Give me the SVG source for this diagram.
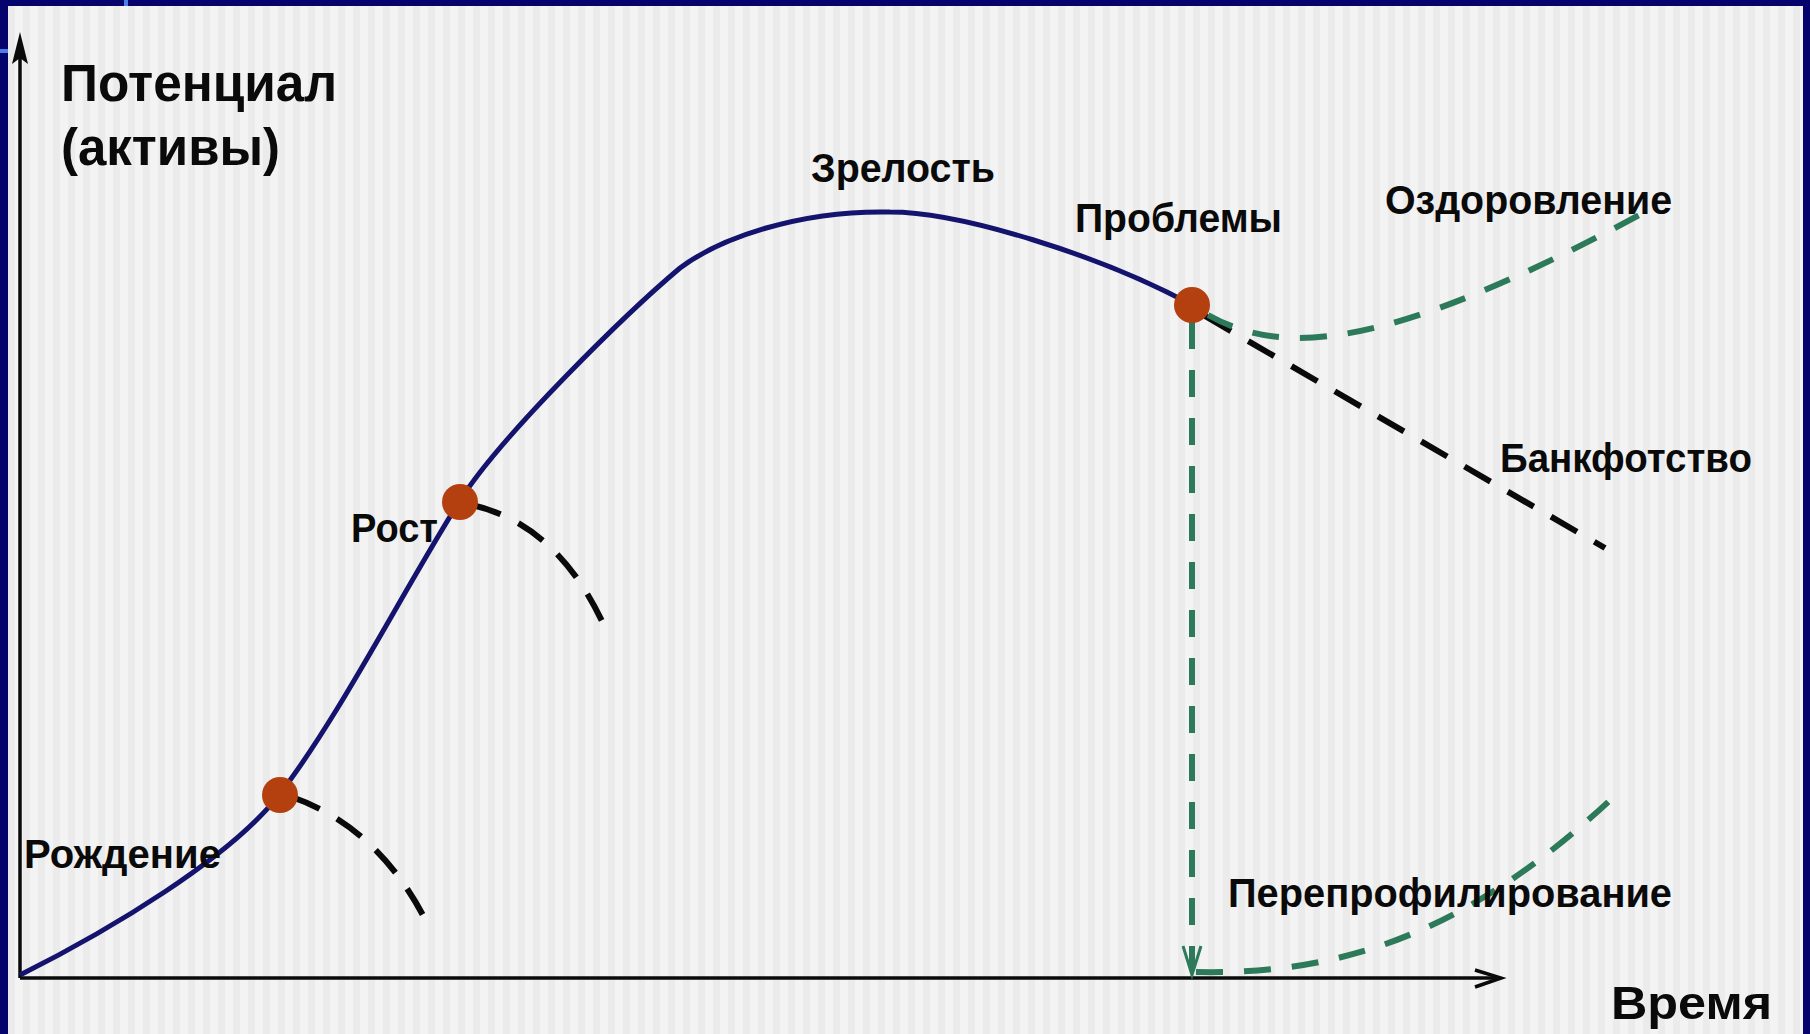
<svg xmlns="http://www.w3.org/2000/svg" width="1810" height="1034" viewBox="0 0 1810 1034">
  <style>
    .lbl { font-family: "Liberation Sans", Arial, sans-serif; font-weight: bold; font-size: 40px; fill: #0a0a0a; }
    .big { font-size: 51px; }
    .axis { stroke: #0a0a0a; stroke-width: 3.5; fill: none; }
    .main { stroke: #14146e; stroke-width: 5; fill: none; stroke-linejoin: round; }
    .dblack { stroke: #0a0a0a; stroke-width: 6; fill: none; stroke-dasharray: 30 20; }
    .dgreen { stroke: #2c7a5a; stroke-width: 6; fill: none; stroke-dasharray: 27 21; }
    .dot { fill: #b5400f; }
  </style>
  <defs>
    <pattern id="stripes" x="0" y="0" width="15" height="15" patternUnits="userSpaceOnUse">
      <rect width="15" height="15" fill="#f3f3f3"/>
      <rect x="8" width="7" height="15" fill="#ebebeb"/>
    </pattern>
  </defs>

  <!-- frame -->
  <rect x="0" y="0" width="1810" height="1034" fill="#04046c"/>
  <rect x="8" y="6" width="1795" height="1028" fill="url(#stripes)"/>
  <rect x="124" y="0" width="4" height="6" fill="#4a7ee8"/>
  <rect x="0" y="49" width="8" height="4" fill="#4a7ee8"/>

  <!-- axes -->
  <g id="axes">
    <line class="axis" x1="20" y1="978" x2="20" y2="50"/>
    <path d="M20,32 L28,64 L20,58 L12,64 Z" fill="#0a0a0a"/>
    <line class="axis" x1="20" y1="978" x2="1500" y2="978"/>
    <polyline class="axis" points="1475,970 1501,978 1475,987" stroke-width="3"/>
  </g>

  <!-- connectors -->
  <g id="connectors">
    <path id="life-curve" class="main" d="M20,975 C110,930 230,858 279,795 C339,717 399,598 459,502 C500,436 630,310 680,268 C720,238 800,210 890,212 C960,212 1100,255 1192,305"/>
    <path id="birth-fail" class="dblack" d="M292,797 Q380,828 428,925"/>
    <path id="growth-fail" class="dblack" d="M472,505 Q560,525 607,632"/>
    <line id="bankruptcy" class="dblack" x1="1205" y1="316" x2="1605" y2="548"/>
    <path id="recovery" class="dgreen" d="M1208,315 C1280,355 1380,355 1643,213"/>
    <line id="drop" class="dgreen" x1="1192" y1="322" x2="1192" y2="970"/>
    <polyline points="1183,946 1192,975 1201,946" fill="none" stroke="#2c7a5a" stroke-width="3"/>
    <path id="reprofiling" class="dgreen" d="M1196,972 C1340,975 1470,935 1623,788"/>
  </g>

  <!-- nodes -->
  <g id="node-birth">
    <circle class="dot" cx="280" cy="795" r="18"/>
    <text class="lbl" x="24" y="868" textLength="197" lengthAdjust="spacingAndGlyphs">Рождение</text>
  </g>
  <g id="node-growth">
    <circle class="dot" cx="460" cy="502" r="18"/>
    <text class="lbl" x="351" y="542" textLength="87" lengthAdjust="spacingAndGlyphs">Рост</text>
  </g>
  <g id="node-maturity">
    <text class="lbl" x="811" y="182" textLength="184" lengthAdjust="spacingAndGlyphs">Зрелость</text>
  </g>
  <g id="node-problems">
    <circle class="dot" cx="1192" cy="305" r="18"/>
    <text class="lbl" x="1075" y="232" textLength="207" lengthAdjust="spacingAndGlyphs">Проблемы</text>
  </g>
  <g id="node-recovery">
    <text class="lbl" x="1385" y="214" textLength="287" lengthAdjust="spacingAndGlyphs">Оздоровление</text>
  </g>
  <g id="node-bankruptcy">
    <text class="lbl" x="1500" y="472" textLength="252" lengthAdjust="spacingAndGlyphs">Банкфотство</text>
  </g>
  <g id="node-reprofiling">
    <text class="lbl" x="1228" y="907" textLength="444" lengthAdjust="spacingAndGlyphs">Перепрофилирование</text>
  </g>
  <g id="axis-labels">
    <text class="lbl big" x="61" y="101" textLength="276" lengthAdjust="spacingAndGlyphs">Потенциал</text>
    <text class="lbl big" x="61" y="165" textLength="219" lengthAdjust="spacingAndGlyphs">(активы)</text>
    <text class="lbl" x="1611" y="1019" font-size="46" style="font-size:46px" textLength="161" lengthAdjust="spacingAndGlyphs">Время</text>
  </g>
</svg>
